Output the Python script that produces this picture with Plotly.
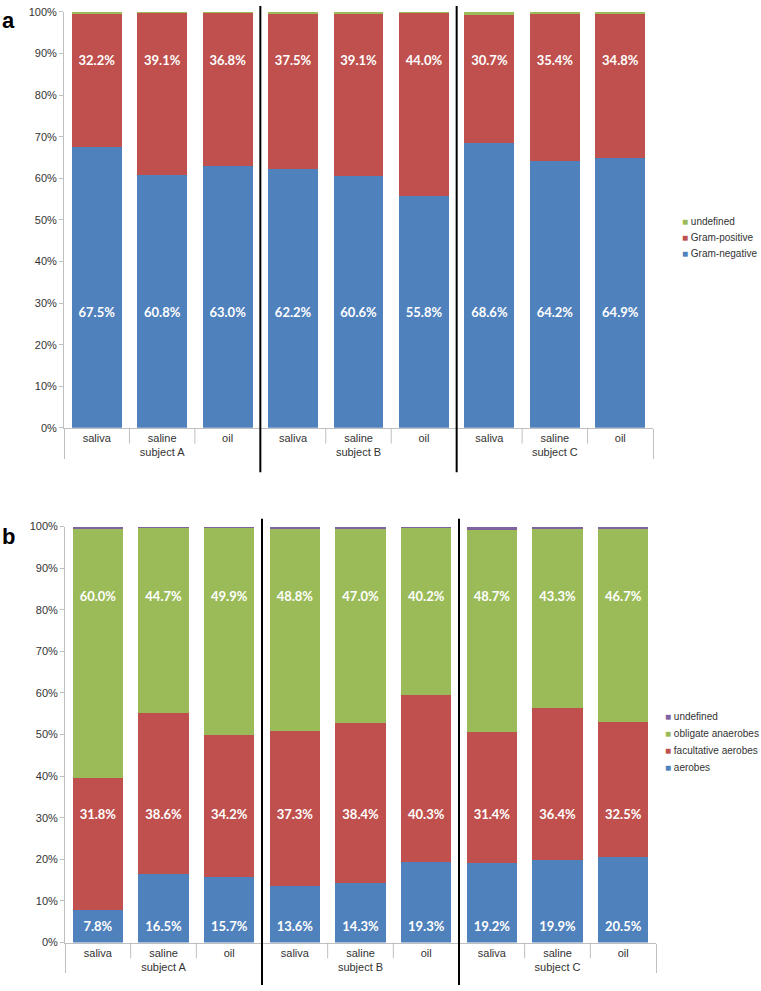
import plotly.graph_objects as go
from plotly.subplots import make_subplots

subjects = ["subject A", "subject B", "subject C"]
samples = ["saliva", "saline", "oil"]

# Panel a: Gram staining (%)
gram_negative = [67.5, 60.8, 63.0, 62.2, 60.6, 55.8, 68.6, 64.2, 64.9]
gram_positive = [32.2, 39.1, 36.8, 37.5, 39.1, 44.0, 30.7, 35.4, 34.8]
gram_undefined = [0.3, 0.1, 0.2, 0.3, 0.3, 0.2, 0.7, 0.4, 0.3]

# Panel b: oxygen requirement (%)
aerobes = [7.8, 16.5, 15.7, 13.6, 14.3, 19.3, 19.2, 19.9, 20.5]
facultative = [31.8, 38.6, 34.2, 37.3, 38.4, 40.3, 31.4, 36.4, 32.5]
obligate = [60.0, 44.7, 49.9, 48.8, 47.0, 40.2, 48.7, 43.3, 46.7]
oxy_undefined = [0.4, 0.2, 0.2, 0.3, 0.3, 0.2, 0.7, 0.4, 0.3]

ticks_y = [0, 10, 20, 30, 40, 50, 60, 70, 80, 90, 100]
ticks_y_text = [f"{v}%" for v in ticks_y]

BLUE, RED, GREEN, PURPLE = "#4F81BD", "#C0504D", "#9BBB59", "#8064A2"

x_groups = [s for s in subjects for _ in samples]
x_samples = [p for _ in subjects for p in samples]
X = [x_groups, x_samples]

W, H = 761, 991
fig = make_subplots(rows=2, cols=1)

def bar(name, vals, color, row):
    fig.add_trace(go.Bar(x=X, y=vals, name=name, marker=dict(color=color, line=dict(width=0)),
                         showlegend=False, hoverinfo="y+name"), row=row, col=1)

def labels(vals, level, row):
    fig.add_trace(go.Scatter(x=X, y=[level] * len(vals), mode="text",
                             text=[f"{v:.1f}%" for v in vals],
                             textfont=dict(family="Lato", size=13, color="white", weight="bold"),
                             showlegend=False, hoverinfo="skip", cliponaxis=False), row=row, col=1)

series_a = [("Gram-negative", gram_negative, BLUE),
            ("Gram-positive", gram_positive, RED),
            ("undefined", gram_undefined, GREEN)]
series_b = [("aerobes", aerobes, BLUE),
            ("facultative aerobes", facultative, RED),
            ("obligate anaerobes", obligate, GREEN),
            ("undefined", oxy_undefined, PURPLE)]

for name, vals, color in series_a:
    bar(name, vals, color, 1)
for name, vals, color in series_b:
    bar(name, vals, color, 2)

labels(gram_negative, 27.5, 1)
labels(gram_positive, 88.0, 1)
labels(aerobes, 3.6, 2)
labels(facultative, 30.5, 2)
labels(obligate, 82.8, 2)

ya = [1 - 427 / H, 1 - 6 / H]
yb = [1 - 948 / H, 1 - 527 / H]
xa = [64 / W, 653 / W]
xb = [65 / W, 656 / W]

axis_font = dict(family="Liberation Sans, Arial", size=11, color="#333333")
xcommon = dict(showline=True, linecolor="#BFBFBF", linewidth=1, showdividers=True,
               dividercolor="#BFBFBF", dividerwidth=1, ticks="", tickfont=axis_font,
               showgrid=False, zeroline=False)
ycommon = dict(range=[0, 100], tickmode="array", tickvals=ticks_y, ticktext=ticks_y_text,
               showline=True, linecolor="#BFBFBF", linewidth=1, ticks="outside", ticklen=4,
               tickcolor="#BFBFBF", showgrid=False, zeroline=False,
               tickfont=dict(family="Liberation Sans, Arial", size=11, color="#333333"))

fig.update_layout(
    width=W, height=H, margin=dict(l=0, r=0, t=0, b=0),
    paper_bgcolor="white", plot_bgcolor="white",
    barmode="stack", bargap=0.237, showlegend=False,
    xaxis=dict(domain=xa, **xcommon), yaxis=dict(domain=ya, **ycommon),
    xaxis2=dict(domain=xb, **xcommon), yaxis2=dict(domain=yb, **ycommon),
    font=dict(family="Liberation Sans, Arial"),
)

shapes = []
for xr, yr, top, bot in [("x domain", "y domain", 427 / 421, -45 / 421),
                         ("x2 domain", "y2 domain", 429 / 421, -43 / 421)]:
    for k in (1, 2, 4, 5, 7, 8):
        shapes.append(dict(type="line", xref=xr, yref=yr, x0=k / 9, x1=k / 9, y0=0, y1=-16 / 421,
                           line=dict(color="#BFBFBF", width=1)))
    for k in (3, 6):
        shapes.append(dict(type="line", xref=xr, yref=yr, x0=k / 9, x1=k / 9, y0=bot, y1=top,
                           line=dict(color="black", width=2)))
fig.update_layout(shapes=shapes)

# Excel-style legends (small square key, reversed order)
def legend(series, x_px, first_y_px, step_px):
    for i, (name, _, color) in enumerate(reversed(series)):
        fig.add_annotation(text=f"<span style='color:{color}'>■</span> {name}",
                           xref="paper", yref="paper", x=x_px / W, y=1 - (first_y_px + i * step_px) / H,
                           xanchor="left", yanchor="middle", showarrow=False,
                           font=dict(family="Liberation Sans, Arial", size=10, color="#333333"))

legend(series_a, 680, 218, 16.5)
legend(series_b, 663, 719, 17.3)

fig.add_annotation(text="<b>a</b>", xref="paper", yref="paper", x=0, y=1 - 0 / H, xanchor="left",
                   yanchor="top", showarrow=False, font=dict(family="Liberation Sans, Arial", size=22, color="black"))
fig.add_annotation(text="<b>b</b>", xref="paper", yref="paper", x=0, y=1 - 522 / H, xanchor="left",
                   yanchor="top", showarrow=False, font=dict(family="Liberation Sans, Arial", size=22, color="black"))

fig.write_html("out.html", config={"displayModeBar": False},
               post_script="document.body.style.margin='0';document.body.style.overflow='hidden';")
